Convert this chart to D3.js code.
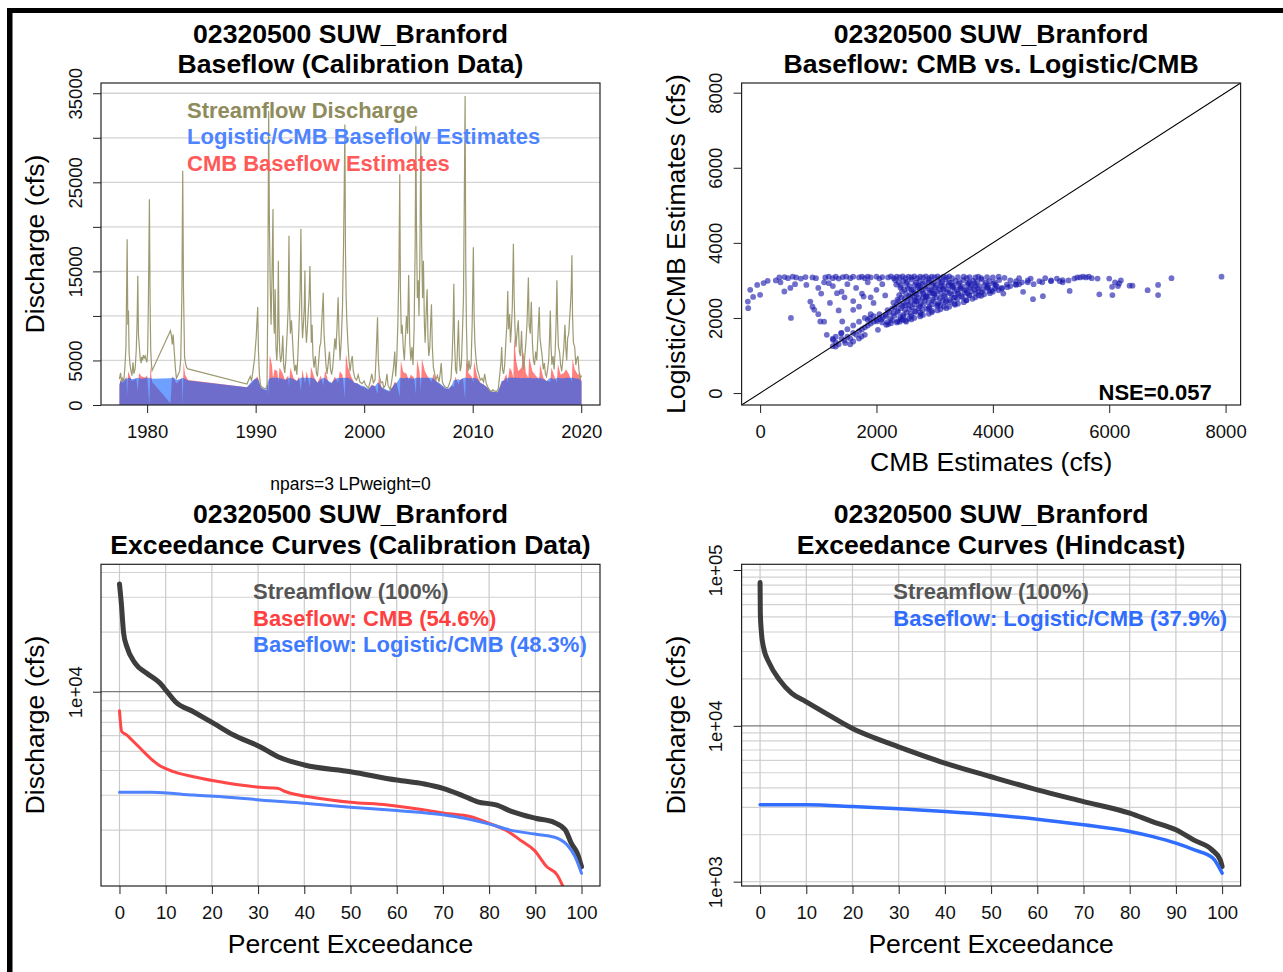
<!DOCTYPE html>
<html>
<head>
<meta charset="utf-8">
<script src="https://cdn.jsdelivr.net/npm/d3@7"></script>
<style>
body { margin: 0; background: #fff; }
</style>
</head>
<body>
<svg id="chart"></svg>
<script>
// ---- data ----
// streamflow discharge, [decimal year, cfs]
const flowSeries = [
 [1977.45,2900],[1977.55,3600],[1977.65,2600],[1977.75,3000],[1977.85,2700],[1977.95,4200],[1978.05,6500],[1978.16,18600],
 [1978.22,9000],[1978.28,10600],[1978.34,5800],[1978.42,4600],[1978.5,3900],[1978.6,3300],[1978.7,4800],[1978.78,3500],
 [1978.9,4100],[1979.0,6200],[1979.08,9500],[1979.14,14500],[1979.2,8000],[1979.28,6600],[1979.36,5200],[1979.45,4700],
 [1979.5,5400],[1979.58,5000],[1979.66,5600],[1979.74,5300],[1979.82,5500],[1979.9,5100],[1979.98,4800],[1980.05,6000],
 [1980.12,12000],[1980.21,23100],[1980.27,12000],[1980.33,6200],[1980.4,4600],[1980.45,3850],
 [1982.15,8340],[1982.25,7700],[1982.32,6800],[1982.4,7900],[1982.5,6000],[1982.6,4200],[1982.7,3000],[1982.85,3400],
 [1983.0,3800],[1983.1,5200],[1983.2,12000],[1983.28,26300],[1983.35,13000],[1983.45,5400],[1983.55,4600],[1983.65,4200],
 [1983.77,4050],
 [1989.2,2360],[1989.35,2800],[1989.5,3200],[1989.62,2700],[1989.75,3800],[1989.9,5200],[1990.05,7600],[1990.19,11000],
 [1990.26,6000],[1990.35,3300],[1990.45,2200],[1990.6,2000],[1990.75,1900],[1990.95,1800],[1991.05,2300],[1991.12,12000],
 [1991.2,33000],[1991.27,20000],[1991.35,13000],[1991.42,9000],[1991.5,14000],[1991.6,22000],[1991.66,10000],[1991.72,8000],
 [1991.8,13000],[1991.87,6500],[1991.95,5000],[1992.02,7000],[1992.09,16200],[1992.15,9000],[1992.22,6000],[1992.3,4800],
 [1992.4,5500],[1992.5,7800],[1992.58,4500],[1992.68,3600],[1992.78,5000],[1992.9,8000],[1993.0,11000],[1993.07,19000],
 [1993.13,11000],[1993.2,8000],[1993.3,9500],[1993.4,7300],[1993.5,5000],[1993.6,3800],[1993.7,4500],[1993.8,3400],
 [1993.9,5800],[1994.0,9000],[1994.1,13000],[1994.17,19800],[1994.25,10000],[1994.32,7500],[1994.4,9000],[1994.48,11000],
 [1994.54,15100],[1994.6,9000],[1994.68,7000],[1994.76,8500],[1994.85,10500],[1994.92,12000],[1995.0,15600],[1995.07,11000],
 [1995.13,7000],[1995.2,9000],[1995.28,5500],[1995.38,4200],[1995.5,5500],[1995.6,3600],[1995.7,3200],[1995.8,4800],
 [1995.9,6500],[1996.0,7000],[1996.1,9500],[1996.23,12600],[1996.3,8000],[1996.38,6500],[1996.48,4500],[1996.58,3500],
 [1996.7,4800],[1996.8,6000],[1996.9,4000],[1997.0,3400],[1997.1,4200],[1997.2,5800],[1997.3,7500],[1997.4,6200],
 [1997.5,8800],[1997.6,12100],[1997.68,8000],[1997.78,5000],[1997.9,7500],[1998.0,11000],[1998.1,18000],[1998.16,24000],
 [1998.22,31500],[1998.28,17000],[1998.34,12000],[1998.4,9500],[1998.5,7000],[1998.6,5000],[1998.7,3800],[1998.8,4800],
 [1998.9,5500],[1999.0,3800],[1999.15,3000],[1999.3,2800],[1999.45,3400],[1999.6,2600],[1999.8,2400],[2000.0,2700],
 [2000.1,2300],[2000.25,2100],[2000.4,1900],[2000.55,2600],[2000.7,3500],[2000.85,2500],[2001.0,2800],[2001.1,5500],
 [2001.23,9850],[2001.3,5200],[2001.4,3200],[2001.55,2500],[2001.7,2600],[2001.8,1900],[2001.95,2200],[2002.1,3500],
 [2002.2,2200],[2002.4,1700],[2002.55,2800],[2002.7,4200],[2002.82,6000],[2002.9,3200],[2003.0,5000],[2003.1,9000],
 [2003.2,15000],[2003.28,25900],[2003.34,13000],[2003.42,8000],[2003.5,9000],[2003.6,6500],[2003.7,5000],[2003.8,7500],
 [2003.9,10000],[2004.0,8000],[2004.1,14600],[2004.2,7000],[2004.3,5000],[2004.4,6500],[2004.5,4500],[2004.6,8500],
 [2004.7,18000],[2004.76,31300],[2004.82,20000],[2004.9,12000],[2004.98,14000],[2005.05,10000],[2005.13,16000],[2005.22,30200],
 [2005.3,18000],[2005.38,12000],[2005.46,16200],[2005.55,9000],[2005.62,7000],[2005.7,10000],[2005.8,13000],[2005.88,7500],
 [2005.95,5500],[2006.05,6500],[2006.12,9000],[2006.2,11300],[2006.28,6500],[2006.38,4200],[2006.5,3500],[2006.6,2800],
 [2006.75,3300],[2006.9,2600],[2007.0,3500],[2007.1,4700],[2007.2,2600],[2007.35,2200],[2007.5,2000],[2007.7,1900],
 [2007.85,2400],[2008.0,3000],[2008.1,5200],[2008.2,9000],[2008.26,13600],[2008.33,7000],[2008.42,4000],[2008.52,3500],
 [2008.6,6500],[2008.69,9500],[2008.76,5500],[2008.85,3800],[2008.95,4500],[2009.05,8000],[2009.15,12000],[2009.22,22000],
 [2009.3,34700],[2009.36,16000],[2009.42,9000],[2009.5,4700],[2009.58,3800],[2009.65,5000],[2009.75,4000],[2009.85,4500],
 [2009.95,9000],[2010.06,17700],[2010.13,10000],[2010.2,7000],[2010.3,5200],[2010.42,4000],[2010.55,3500],[2010.7,2800],
 [2010.85,3000],[2011.0,2600],[2011.1,3500],[2011.25,2400],[2011.4,2000],[2011.55,1700],[2011.7,1500],[2011.85,1700],
 [2012.0,1600],[2012.2,1500],[2012.35,1800],[2012.5,3500],[2012.6,4800],[2012.67,6500],[2012.75,4000],[2012.85,3500],
 [2012.95,4500],[2013.05,7000],[2013.15,9000],[2013.23,12800],[2013.3,8500],[2013.4,10200],[2013.48,7000],[2013.56,8500],
 [2013.65,11000],[2013.75,18100],[2013.82,12000],[2013.9,8500],[2013.98,6500],[2014.08,8000],[2014.2,9500],[2014.3,6000],
 [2014.4,5500],[2014.5,8300],[2014.6,5000],[2014.7,4000],[2014.8,5500],[2014.9,7000],[2015.0,9000],[2015.13,14300],
 [2015.2,9000],[2015.3,8000],[2015.4,11600],[2015.5,7000],[2015.6,5000],[2015.7,4500],[2015.8,6000],[2015.9,5000],
 [2016.0,7500],[2016.13,11000],[2016.2,7500],[2016.3,6500],[2016.4,5500],[2016.5,4000],[2016.6,4700],[2016.7,3500],
 [2016.8,3200],[2016.9,4000],[2017.0,5000],[2017.08,7500],[2017.15,10600],[2017.22,6500],[2017.3,4500],[2017.4,5500],
 [2017.5,4000],[2017.6,6000],[2017.68,9000],[2017.76,14000],[2017.82,9500],[2017.9,6500],[2018.0,6000],[2018.1,4500],
 [2018.2,3800],[2018.3,5000],[2018.4,6500],[2018.5,9000],[2018.58,6500],[2018.66,5000],[2018.75,7500],[2018.85,8000],
 [2018.92,9500],[2019.0,11000],[2019.08,13000],[2019.14,16800],[2019.2,10000],[2019.28,7000],[2019.4,6500],[2019.5,4500],
 [2019.6,5200],[2019.7,5500],[2019.8,3800],[2019.9,3000],[2020.03,3300]
];

// baseflow estimates, [decimal year, CMB cfs, Logistic/CMB cfs]
const baseSeries = [
 [1977.45,2200,2300],[1977.55,2800,2700],[1977.7,2500,2900],[1977.85,2600,2800],[1978.0,3000,2900],[1978.1,3200,2950],
 [1978.16,1000,3000],[1978.25,3800,3000],[1978.4,3300,3050],[1978.6,2700,2900],[1978.8,2800,2950],[1979.0,3000,3000],
 [1979.14,1500,3050],[1979.25,3600,3000],[1979.5,3200,2950],[1979.8,3100,3000],[1980.0,3300,3050],[1980.21,0,3050],
 [1980.3,4400,3000],[1980.45,2600,2950],[1982.15,200,3000],[1982.3,3200,3050],[1982.5,2900,3050],[1982.7,2400,2800],
 [1983.0,2800,2900],[1983.2,3000,3000],[1983.28,0,3050],[1983.36,4800,3000],[1983.5,3400,2950],[1983.77,2800,2750],
 [1989.2,2000,2000],[1989.4,2200,2300],[1989.6,2400,2600],[1989.9,2900,2900],[1990.19,3200,3000],[1990.3,2600,2700],
 [1990.5,1900,2000],[1990.8,1700,1800],[1991.0,1600,1700],[1991.12,2800,2500],[1991.2,1000,2900],[1991.3,5600,3000],
 [1991.5,4500,3050],[1991.6,3000,3050],[1991.75,4000,3050],[1992.0,3800,3050],[1992.09,2500,3050],[1992.2,4200,3000],
 [1992.5,3500,2950],[1992.7,2800,2800],[1993.0,3300,3000],[1993.07,2000,3050],[1993.2,4200,3050],[1993.5,3000,2900],
 [1993.8,2700,2700],[1994.0,3200,2950],[1994.17,1500,3050],[1994.3,4000,3050],[1994.54,2400,3050],[1994.7,3800,3050],
 [1995.0,2000,3050],[1995.1,4300,3050],[1995.4,3100,2950],[1995.7,2500,2500],[1996.0,3300,2900],[1996.23,2200,3050],
 [1996.4,3900,3000],[1996.7,2600,2700],[1997.0,2400,2500],[1997.3,3200,2900],[1997.6,2500,3050],[1997.75,3800,3000],
 [1998.0,3400,3050],[1998.22,800,3050],[1998.32,5800,3050],[1998.5,4300,3050],[1998.8,3200,2900],[1999.1,2500,2500],
 [1999.4,2400,2400],[1999.7,2100,2200],[2000.0,2000,2100],[2000.4,1700,1800],[2000.7,2300,2200],[2001.0,2100,2100],
 [2001.23,1200,2500],[2001.35,3200,2500],[2001.6,2000,2000],[2001.9,1700,1800],[2002.3,1500,1600],[2002.6,2000,2000],
 [2002.82,2600,2400],[2003.0,2400,2500],[2003.28,900,3050],[2003.38,5000,3050],[2003.6,3700,3000],[2003.9,3500,3050],
 [2004.1,2800,3050],[2004.3,3400,3000],[2004.6,3100,2950],[2004.76,1200,3050],[2004.88,5100,3050],[2005.1,3800,3050],
 [2005.22,1500,3050],[2005.32,5200,3050],[2005.6,3800,3050],[2005.85,3200,3050],[2006.2,2600,3050],[2006.4,3500,2950],
 [2006.7,2600,2600],[2007.0,2300,2400],[2007.2,2100,2200],[2007.5,1800,1900],[2007.8,1800,1850],[2008.1,2200,2300],
 [2008.26,2000,2800],[2008.4,3200,2800],[2008.69,2300,2900],[2008.85,2800,2800],[2009.1,3000,3000],[2009.3,600,3050],
 [2009.4,5200,3050],[2009.6,3600,3000],[2009.9,3200,3000],[2010.06,2500,3050],[2010.12,4900,3050],[2010.4,3300,2950],
 [2010.7,2500,2500],[2011.0,2300,2300],[2011.4,1900,1900],[2011.7,1500,1550],[2012.0,1500,1500],[2012.3,1400,1500],
 [2012.55,2200,2200],[2012.67,2600,2700],[2012.85,2800,2700],[2013.1,3500,3000],[2013.23,2500,3050],[2013.4,4200,3050],
 [2013.6,3800,3050],[2013.75,3000,3050],[2013.82,7800,3050],[2014.0,5000,3050],[2014.2,3800,3050],[2014.5,4200,3000],
 [2014.7,6000,3050],[2014.9,3600,3000],[2015.13,3000,3050],[2015.2,5400,3050],[2015.5,3800,3000],[2015.8,3300,3000],
 [2016.13,2800,3050],[2016.2,4600,3050],[2016.5,3100,2900],[2016.8,2700,2700],[2017.15,2600,3050],[2017.25,4200,3000],
 [2017.5,3300,2900],[2017.76,2500,3050],[2017.85,4600,3050],[2018.1,3400,3000],[2018.4,3600,3000],[2018.6,4000,3050],
 [2018.85,3500,3050],[2019.14,2600,3050],[2019.2,5200,3050],[2019.4,4000,3000],[2019.7,3400,2950],[2019.9,3600,2900],
 [2020.03,2600,2600]
];

// CMB estimate vs Logistic/CMB estimate, [cfs, cfs]
const cmbVsLogistic = [
 [-211,2437],[-205,2260],[-170,2750],[-120,2560],[-50,2880],[0,2616],[60,2930],[130,2990],[270,3000],[330,3080],
 [420,3090],[480,3060],[560,3100],[620,3080],[350,2950],[520,2800],[600,2900],[700,3050],[780,3090],[417,2705],
 [530,2000],[795,2880],[863,2437],[931,2217],[1034,1906],[900,3080],[960,3060],[1000,2800],[1050,2650],[1100,2950],
 [1120,3080],[1180,3100],[1181,2927],[1200,2400],[1250,2850],[1321,2660],[1350,2200],[1400,2700],[1412,1906],[1450,2550],
 [1500,2900],[1600,2217],[1600,2450],[1650,2800],[1700,2300],[1750,2650],[1779,2570],[1850,2950],[1884,1995],[1900,2550],
 [1950,2400],[2000,2750],[2050,2100],[2100,2900],[2150,2600],[1000,2100],[1100,1900],[900,2300],[1250,3060],[1300,3100],
 [1350,3050],[1420,3090],[1480,3100],[1550,3060],[1600,3100],[1700,3080],[1750,3100],[1800,3060],[1850,3100],[1900,3080],
 [2000,3100],[2050,3050],[2100,3090],
 [1146,1551],[1251,1418],[1300,1240],[1391,1596],[1463,1330],[1600,1373],[1743,1506],[2025,1685],[2167,1818],[1250,1250],
 [1300,1350],[1350,1300],[1400,1450],[1450,1400],[1500,1500],[1550,1450],[1600,1600],[1650,1550],[1700,1650],[1750,1700],
 [1800,1750],[1850,1800],[1900,1850],[1950,1900],[1300,1500],[1400,1600],[1500,1700],[1600,1800],[1700,1900],[1800,2000],
 [1900,2100],[1250,1450],[1550,1300],[1700,1450],[1800,1550],[2000,1950],[2050,2000],[2100,1880],[1950,2050],[1850,1950],
 [2200,3080],[2250,3110],[2300,3060],[2350,3100],[2400,3080],[2450,3110],[2500,3060],[2550,3100],[2600,3080],[2650,3110],
 [2700,3060],[2750,3100],[2800,3080],[2850,3110],[2900,3060],[2950,3100],[3000,3080],[3050,3110],[3100,3060],[3150,3100],
 [3200,3080],[3250,3110],[3300,3060],[3400,3090],[3500,3100],[3550,3060],[3600,3090],[3700,3080],[3750,3100],[3800,3060],
 [3900,3090],[4000,3080],[4100,3100],[4200,3070],[4300,3000],[4400,2980],[4500,2950],[4600,3000],[4700,2900],[4850,2950],
 [5000,2980],[5100,3050],[5200,2950],[5300,3000],[5400,3050],[5450,3080],[5500,3080],[5550,3100],[5600,3080],[5650,3100],
 [5700,3060],[5800,3050],[6000,3050],[6100,2950],[6150,2850],[6200,3000],[6050,2830],[6170,2920],[6350,2860],[6400,2860],
 [6660,2740],[6840,2610],[6840,2880],[7070,3060],[7930,3100],[4520,2695],[4690,2500],[4860,2580],[5320,2720],[5830,2630],
 [6055,2610],[4180,2650],[4650,3050],[4900,3060],[5150,2980],[4450,3060],
 [2320,3010],[2460,2990],[2610,3020],[2740,2980],[2910,3010],[3060,2990],[3190,3020],[3360,2985],[3490,3010],[3660,2990],
 [3810,3020],[3940,2980],[4110,3010],[2340,2890],[2510,2920],[2660,2880],[2790,2910],[2960,2890],[3110,2920],[3240,2880],
 [3410,2910],[3560,2895],[3690,2920],[3860,2880],[4010,2910],[4240,2890],[4390,2900],[2410,2810],[2540,2790],[2710,2820],
 [2840,2780],[3010,2810],[3140,2790],[3310,2820],[3440,2780],[3610,2810],[3740,2790],[3910,2820],[4040,2790],[4160,2800],
 [2440,2710],[2610,2690],[2740,2720],[2910,2680],[3040,2710],[3210,2690],[3340,2720],[3510,2680],[3640,2710],[3810,2690],
 [3940,2720],[2390,2610],[2560,2590],[2690,2620],[2860,2580],[2990,2610],[3160,2590],[3290,2620],[3460,2580],[3590,2610],
 [3760,2600],[2360,2490],[2490,2520],[2660,2480],[2790,2510],[2960,2490],[3090,2520],[3260,2480],[3390,2510],[3540,2470],
 [2290,2410],[2460,2390],[2590,2420],[2760,2380],[2890,2410],[3060,2390],[3190,2420],[3340,2380],[2310,2290],[2440,2320],
 [2610,2280],[2740,2310],[2910,2290],[3040,2320],[3160,2300],[2190,2210],[2360,2190],[2490,2220],[2660,2180],[2790,2210],
 [2960,2190],[2160,2090],[2290,2120],[2460,2080],[2590,2110],[2760,2090],[2110,2010],[2240,1990],[2410,2020],[2560,1990],
 [2010,1910],[2190,1890],[2360,1910],[2510,1900],
 [2200,1830],[2350,1880],[2500,1930],[2650,2000],[2800,2080],[2950,2150],[3100,2230],[3250,2300],[3400,2380],[3550,2470],
 [3700,2550],[3850,2630],[4000,2700],[4150,2780],[4300,2850],[4450,2900],[4600,2950],[4800,2980],[5000,3000],[5200,3010],
 [2250,1860],[2400,1900],[2600,1960],[2750,2040],[2900,2110],[3050,2200],[3200,2260],[3350,2350],[3500,2420],[3650,2510],
 [3800,2590],[3950,2660],[4100,2740],[4250,2820],[4400,2880],
 [2550,2350],[2700,2450],[2850,2550],[3000,2650],[3150,2750],[3300,2850],[2650,2550],[2800,2650],[2950,2750],[3100,2850],
 [3250,2950],[2600,2750],[2750,2850],[2900,2950],[3400,2650],[3550,2750],[3700,2850],[3350,2550],[3200,2450],[3050,2350],
 [2900,2250],[2750,2150],[2600,2050],[2450,1950],[3600,2600],[3750,2700],[3900,2800],[4050,2880],[3450,2800],[3600,2950],
 [2380,2950],[2530,2960],[2680,2940],[2830,2960],[2980,2940],[3130,2960],[3280,2940],[3430,2950],[3580,2930],[3730,2960],
 [3880,2940],[4030,2950],[2420,2860],[2570,2850],[2720,2860],[2870,2840],[3020,2860],[3170,2850],[3320,2860],[3470,2840],
 [3620,2860],[3770,2850],[3920,2860],[4070,2840],[2480,2760],[2630,2750],[2780,2760],[2930,2740],[3080,2760],[3230,2750],
 [3380,2760],[3530,2740],[3680,2760],[3830,2750],[3980,2740],[2510,2650],[2660,2660],[2810,2640],[2960,2660],[3110,2650],
 [3260,2660],[3410,2640],[3560,2660],[3710,2650],[2430,2550],[2580,2560],[2730,2540],[2880,2560],[3030,2550],[3180,2560],
 [3330,2540],[3480,2550],[2380,2450],[2530,2460],[2680,2440],[2830,2460],[2980,2450],[3130,2460],[3280,2430],[2350,2350],
 [2500,2340],[2650,2360],[2800,2340],[2950,2360],[3100,2340],[2270,2250],[2420,2260],[2570,2240],[2720,2260],[2870,2240],
 [2220,2150],[2370,2160],[2520,2140],[2670,2160],[2160,2050],[2310,2060],[2460,2040],[2080,1960],[2270,1940],[2420,1960]
];

// exceedance curves, [percent exceedance, cfs]
const calStreamflow = [[0,34990],[0.4,27960],[0.9,19720],[1.6,16870],[3.4,13910],[5.9,12390],[8.8,11030],[10.3,10000],
 [12.1,8900],[16,7925],[20.4,6920],[24.7,6040],[30.4,5275],[34.3,4695],[40,4265],[50,3945],[60,3580],[66,3420],[70,3250],
 [74,3006],[77.5,2780],[81.5,2679],[85,2478],[90,2295],[94.2,2180],[96.5,2002],[97.8,1714],[99.1,1527],[100,1306]];
const calCmb = [[0,8015],[0.5,6280],[1.6,6040],[2.7,5700],[4.5,5180],[6.7,4610],[8.5,4265],[11.7,3945],[16,3720],
 [20.4,3550],[26.2,3375],[30.4,3290],[34.2,3250],[36,3125],[43,2900],[50,2765],[58,2680],[66,2530],[71.3,2420],[75.6,2350],
 [80.1,2160],[83.6,2000],[87.2,1750],[89.8,1580],[92.5,1306],[94.7,1190],[96,1035],[97,900]];
const calLogistic = [[0,3104],[7,3104],[16,3006],[26.2,2900],[30.4,2840],[40,2735],[50,2610],[60,2510],[70,2390],
 [74.7,2295],[80.1,2145],[84.6,2000],[89.9,1910],[94.2,1840],[96.8,1690],[98.6,1470],[100,1210]];
const hindStreamflow = [[0,83100],[0.05,52900],[0.3,39370],[0.7,32280],[2,25260],[4.2,19730],[6.8,16210],[9.9,14320],
 [14.8,11770],[19.9,9665],[24.9,8340],[29.8,7360],[40,5760],[49.8,4730],[60,3883],[70,3266],[80,2752],[84.9,2430],
 [90,2150],[93.8,1854],[97.8,1600],[99.6,1380],[100,1250]];
const hindLogistic = [[0,3111],[10,3111],[20,3034],[30,2932],[40,2818],[50,2685],[60,2518],[70,2316],[80,2100],
 [85,1947],[90,1767],[94,1600],[98,1416],[100,1135]];

// tick values
const yearTicks = [1980, 1990, 2000, 2010, 2020];
const dischargeTicks = [0, 5000, 10000, 15000, 20000, 25000, 30000, 35000];
const dischargeLabelled = [0, 5000, 15000, 25000, 35000];
const estimateTicks = [0, 2000, 4000, 6000, 8000];
const percentTicks = [0, 10, 20, 30, 40, 50, 60, 70, 80, 90, 100];

const FONT = '"Liberation Sans", Arial, Helvetica, sans-serif';
const svgWidth = 1283, svgHeight = 972;

const chart = d3.select("#chart")
    .attr("width", svgWidth)
    .attr("height", svgHeight)
    .style("font-family", FONT);

chart.append("rect").attr("width", svgWidth).attr("height", svgHeight).attr("fill", "#fff");
// frame pieces along the top and the left
chart.append("rect").attr("x", 7).attr("y", 8).attr("width", 1276).attr("height", 5).attr("fill", "#000");
chart.append("rect").attr("x", 7).attr("y", 8).attr("width", 5.5).attr("height", 964).attr("fill", "#000");

// plot regions
const boxTL = {x0: 101, x1: 600, y0: 83, y1: 405, id: "tl"};
const boxTR = {x0: 741.6, x1: 1240.6, y0: 83, y1: 405, id: "tr"};
const boxBL = {x0: 101, x1: 600, y0: 564.3, y1: 886, id: "bl"};
const boxBR = {x0: 741.6, x1: 1240.6, y0: 564.3, y1: 886, id: "br"};

const defs = chart.append("defs");
[boxTL, boxTR, boxBL, boxBR].forEach(function(b) {
    defs.append("clipPath").attr("id", "clip-" + b.id)
        .append("rect").attr("x", b.x0).attr("y", b.y0)
        .attr("width", b.x1 - b.x0).attr("height", b.y1 - b.y0);
});

function plotLayer(b) {
    return chart.append("g").attr("clip-path", "url(#clip-" + b.id + ")");
}

function drawBox(b) {
    chart.append("rect").attr("x", b.x0).attr("y", b.y0)
        .attr("width", b.x1 - b.x0).attr("height", b.y1 - b.y0)
        .attr("fill", "none").attr("stroke", "#222").attr("stroke-width", 1.2);
}

function leftAxis(scale, b, values, fmt) {
    const g = chart.append("g").attr("transform", `translate(${b.x0},0)`)
        .call(d3.axisLeft(scale).tickValues(values).tickFormat(fmt).tickSize(8).tickSizeOuter(0));
    g.attr("font-family", FONT).attr("font-size", 18.5);
    g.select(".domain").remove();
    g.selectAll(".tick line").attr("stroke", "#222");
    g.selectAll(".tick text")
        .attr("transform", "rotate(-90)")
        .attr("x", 0).attr("y", -19.5).attr("dy", 0)
        .attr("text-anchor", "middle").attr("fill", "#111");
}

function bottomAxis(scale, b, values, fmt) {
    const g = chart.append("g").attr("transform", `translate(0,${b.y1})`)
        .call(d3.axisBottom(scale).tickValues(values).tickFormat(fmt).tickSize(8).tickSizeOuter(0));
    g.attr("font-family", FONT).attr("font-size", 18.5);
    g.select(".domain").remove();
    g.selectAll(".tick line").attr("stroke", "#222");
    g.selectAll(".tick text").attr("y", 32.5).attr("dy", 0).attr("fill", "#111");
}

function title(lines, cx, baselines) {
    lines.forEach(function(t, i) {
        chart.append("text").attr("x", cx).attr("y", baselines[i])
            .attr("text-anchor", "middle").attr("font-weight", "bold")
            .attr("font-size", "26.6px").attr("fill", "#000").text(t);
    });
}

function yLabel(t, x, cy) {
    chart.append("text").attr("transform", `translate(${x},${cy}) rotate(-90)`)
        .attr("text-anchor", "middle").attr("font-size", "26.6px").attr("fill", "#000").text(t);
}

function xLabel(t, cx, y) {
    chart.append("text").attr("x", cx).attr("y", y)
        .attr("text-anchor", "middle").attr("font-size", "26.6px").attr("fill", "#000").text(t);
}

function legend(items, x, baselines) {
    items.forEach(function(it, i) {
        chart.append("text").attr("x", x).attr("y", baselines[i])
            .attr("font-weight", "bold").attr("font-size", "22px")
            .attr("fill", it.color).text(it.text);
    });
}

// ---------- panel 1: hydrograph ----------
const x1 = d3.scaleLinear().domain([1975.75, 2021.73]).range([boxTL.x0, boxTL.x1]);
const y1 = d3.scaleLinear().domain([0, 36150]).range([boxTL.y1, boxTL.y0]);

chart.append("g").selectAll("line").data(dischargeTicks.slice(1)).join("line")
    .attr("x1", boxTL.x0).attr("x2", boxTL.x1)
    .attr("y1", d => y1(d)).attr("y2", d => y1(d))
    .attr("stroke", "#d4d4d4").attr("stroke-width", 1.3);

const p1 = plotLayer(boxTL);
p1.append("path").datum(baseSeries)
    .attr("d", d3.area().x(d => x1(d[0])).y0(y1(0)).y1(d => y1(d[1])))
    .attr("fill", "rgb(255,0,0)").attr("fill-opacity", 0.5);
p1.append("path").datum(baseSeries)
    .attr("d", d3.area().x(d => x1(d[0])).y0(y1(0)).y1(d => y1(d[2])))
    .attr("fill", "rgb(13,97,255)").attr("fill-opacity", 0.6);
p1.append("path").datum(flowSeries)
    .attr("d", d3.line().x(d => x1(d[0])).y(d => y1(d[1])))
    .attr("fill", "none").attr("stroke", "#9d9a72").attr("stroke-width", 1.2);

drawBox(boxTL);
leftAxis(y1, boxTL, dischargeTicks, d => dischargeLabelled.includes(d) ? String(d) : "");
bottomAxis(x1, boxTL, yearTicks, d3.format("d"));
title(["02320500 SUW_Branford", "Baseflow (Calibration Data)"], 350.5, [42.7, 72.7]);
yLabel("Discharge (cfs)", 44, 244);
legend([
    {text: "Streamflow Discharge", color: "#8e8b5c"},
    {text: "Logistic/CMB Baseflow Estimates", color: "#4f84ff"},
    {text: "CMB Baseflow Estimates", color: "#ff5a5a"}
], 187, [117.5, 144, 170.5]);

// ---------- panel 2: scatter ----------
const x2 = d3.scaleLinear().domain([-318, 8258]).range([boxTR.x0, boxTR.x1]);
const y2 = d3.scaleLinear().domain([-318, 8258]).range([boxTR.y1, boxTR.y0]);

const p2 = plotLayer(boxTR);
p2.append("g").selectAll("circle").data(cmbVsLogistic).join("circle")
    .attr("cx", d => x2(d[0])).attr("cy", d => y2(d[1])).attr("r", 2.9)
    .attr("fill", "#1818ac").attr("fill-opacity", 0.62);
p2.append("line")
    .attr("x1", x2(-318)).attr("y1", y2(-318)).attr("x2", x2(8258)).attr("y2", y2(8258))
    .attr("stroke", "#000").attr("stroke-width", 1.1);

drawBox(boxTR);
leftAxis(y2, boxTR, estimateTicks, d3.format("d"));
bottomAxis(x2, boxTR, estimateTicks, d3.format("d"));
title(["02320500 SUW_Branford", "Baseflow: CMB vs. Logistic/CMB"], 991.1, [42.7, 72.7]);
yLabel("Logistic/CMB Estimates (cfs)", 684.5, 244);
xLabel("CMB Estimates (cfs)", 991.1, 470.5);
chart.append("text").attr("x", 1211.7).attr("y", 399.5).attr("text-anchor", "end")
    .attr("font-weight", "bold").attr("font-size", "22px").attr("fill", "#000").text("NSE=0.057");

// ---------- exceedance panels ----------
function exceedancePanel(b, yScale, minorValues, majorValues, curves) {
    const xs = d3.scaleLinear().domain([-4, 104]).range([b.x0, b.x1]);
    const grid = chart.append("g");
    grid.selectAll("line.h").data(minorValues).join("line").attr("class", "h")
        .attr("x1", b.x0).attr("x2", b.x1)
        .attr("y1", d => yScale(d)).attr("y2", d => yScale(d))
        .attr("stroke", "#d2d2d2").attr("stroke-width", 1.2);
    grid.selectAll("line.v").data(percentTicks).join("line").attr("class", "v")
        .attr("x1", d => xs(d)).attr("x2", d => xs(d))
        .attr("y1", b.y0).attr("y2", b.y1)
        .attr("stroke", "#cacaca").attr("stroke-width", 1.2);
    grid.selectAll("line.m").data(majorValues).join("line").attr("class", "m")
        .attr("x1", b.x0).attr("x2", b.x1)
        .attr("y1", d => yScale(d)).attr("y2", d => yScale(d))
        .attr("stroke", "#7a7a7a").attr("stroke-width", 1.2);

    const p = plotLayer(b);
    const line = d3.line().x(d => xs(d[0])).y(d => yScale(d[1])).curve(d3.curveMonotoneX);
    curves.forEach(function(c) {
        p.append("path").datum(c.data).attr("d", line)
            .attr("fill", "none").attr("stroke", c.color).attr("stroke-width", c.width)
            .attr("stroke-linejoin", "round").attr("stroke-linecap", "round");
    });
    drawBox(b);
    bottomAxis(xs, b, percentTicks, d3.format("d"));
}

const logFmt = d => d3.format(".0e")(d).replace(/e\+(\d)$/, "e+0$1");

// panel 3: calibration
const y3 = d3.scaleLog().domain([1044, 44000]).range([boxBL.y1, boxBL.y0]);
const calGrid = [2000, 3000, 4000, 5000, 6000, 7000, 8000, 9000, 20000, 30000, 40000];
exceedancePanel(boxBL, y3, calGrid, [10000], [
    {data: calStreamflow, color: "#3d3d3d", width: 5},
    {data: calCmb, color: "#ff4747", width: 3},
    {data: calLogistic, color: "#4f82ff", width: 3}
]);
leftAxis(y3, boxBL, [10000], logFmt);
chart.append("text").attr("x", 350.5).attr("y", 490).attr("text-anchor", "middle")
    .attr("font-size", "17.5px").attr("fill", "#000").text("npars=3 LPweight=0");
title(["02320500 SUW_Branford", "Exceedance Curves (Calibration Data)"], 350.5, [523.3, 554]);
yLabel("Discharge (cfs)", 44, 725);
xLabel("Percent Exceedance", 350.5, 953);
legend([
    {text: "Streamflow (100%)", color: "#555555"},
    {text: "Baseflow: CMB (54.6%)", color: "#ff4040"},
    {text: "Baseflow: Logistic/CMB (48.3%)", color: "#3f7bff"}
], 253, [599, 625.5, 652]);

// panel 4: hindcast
const y4 = d3.scaleLog().domain([938, 108800]).range([boxBR.y1, boxBR.y0]);
const hindGrid = [2000, 3000, 4000, 5000, 6000, 7000, 8000, 9000,
    20000, 30000, 40000, 50000, 60000, 70000, 80000, 90000];
exceedancePanel(boxBR, y4, hindGrid.concat([1000, 100000]), [10000], [
    {data: hindStreamflow, color: "#3d3d3d", width: 5},
    {data: hindLogistic, color: "#2f6cff", width: 3.5}
]);
leftAxis(y4, boxBR, [1000, 10000, 100000], logFmt);
title(["02320500 SUW_Branford", "Exceedance Curves (Hindcast)"], 991.1, [523.3, 554]);
yLabel("Discharge (cfs)", 684.5, 725);
xLabel("Percent Exceedance", 991.1, 953);
legend([
    {text: "Streamflow (100%)", color: "#555555"},
    {text: "Baseflow: Logistic/CMB (37.9%)", color: "#2f6cff"}
], 893.3, [599, 625.5]);
</script>
</body>
</html>
